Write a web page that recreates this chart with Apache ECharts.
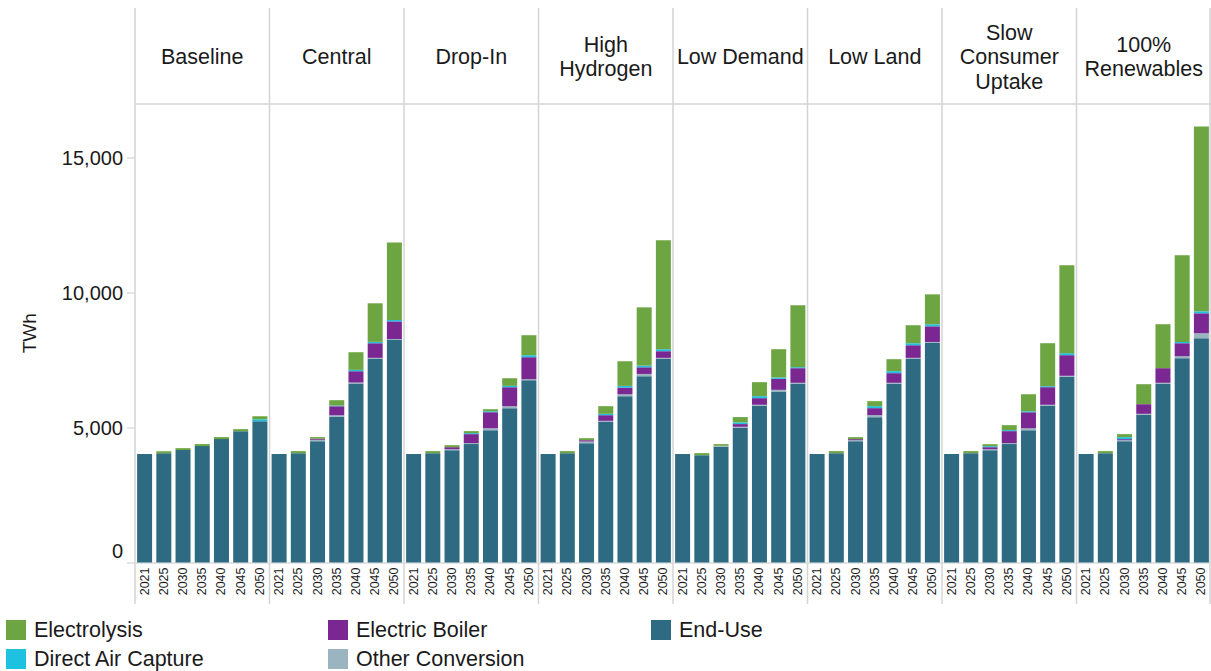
<!DOCTYPE html>
<html>
<head>
<meta charset="utf-8">
<script src="https://cdn.jsdelivr.net/npm/echarts@6/dist/echarts.min.js"></script>
<style>
html,body{margin:0;padding:0;background:#fff;}
#chart{width:1211px;height:671px;}
</style>
</head>
<body>
<div id="chart"></div>
<script>
// ---- Data ----
const scenarios = ['Baseline', 'Central', 'Drop-In', 'High\nHydrogen', 'Low Demand', 'Low Land', 'Slow\nConsumer\nUptake', '100%\nRenewables'];
const years = ['2021', '2025', '2030', '2035', '2040', '2045', '2050'];
const yTicks = [0, 5000, 10000, 15000];

// one row per scenario (same order as scenarios), one value per year
const endUse = [
  [4020, 4050, 4170, 4315, 4575, 4870, 5240],
  [4020, 4055, 4500, 5400, 6635, 7550, 8250],
  [4020, 4055, 4165, 4390, 4905, 5720, 6760],
  [4020, 4055, 4425, 5215, 6165, 6905, 7550],
  [4020, 3980, 4290, 4995, 5810, 6340, 6625],
  [4020, 4055, 4500, 5390, 6625, 7550, 8140],
  [4020, 4055, 4165, 4390, 4905, 5810, 6885],
  [4020, 4055, 4500, 5475, 6625, 7575, 8315]
];
const otherConversion = [
  [0, 0, 0, 0, 0, 0, 0],
  [0, 0, 50, 60, 37, 37, 37],
  [0, 0, 37, 37, 74, 74, 37],
  [0, 0, 60, 37, 74, 86, 37],
  [0, 0, 37, 37, 37, 62, 37],
  [0, 0, 37, 74, 37, 37, 37],
  [0, 0, 37, 37, 74, 37, 37],
  [0, 0, 37, 37, 37, 74, 185]
];
const electricBoiler = [
  [0, 0, 0, 0, 0, 0, 0],
  [0, 0, 40, 333, 420, 543, 654],
  [0, 0, 74, 333, 593, 704, 815],
  [0, 0, 50, 210, 247, 247, 247],
  [0, 0, 0, 100, 247, 407, 543],
  [0, 0, 37, 259, 358, 469, 580],
  [0, 0, 74, 444, 593, 654, 765],
  [0, 0, 37, 358, 543, 481, 740]
];
const directAirCapture = [
  [0, 0, 0, 0, 0, 0, 70],
  [0, 0, 0, 25, 50, 50, 50],
  [0, 0, 0, 37, 37, 50, 74],
  [0, 0, 0, 50, 62, 62, 74],
  [0, 0, 0, 62, 74, 50, 37],
  [0, 0, 0, 74, 74, 74, 74],
  [0, 0, 37, 37, 37, 37, 74],
  [0, 0, 74, 0, 0, 50, 74]
];
const electrolysis = [
  [0, 75, 70, 75, 75, 75, 110],
  [0, 75, 60, 200, 655, 1430, 2875],
  [0, 75, 74, 74, 74, 284, 741],
  [0, 75, 74, 284, 914, 2160, 4037],
  [0, 75, 62, 198, 518, 1049, 2296],
  [0, 75, 74, 185, 444, 667, 1111],
  [0, 75, 74, 185, 630, 1593, 3259],
  [0, 75, 111, 741, 1630, 3210, 6852]
];

// ---- Styling / layout ----
const FONT = "'Liberation Sans', Arial, Helvetica, sans-serif";
const TEXT = '#1a1a1a';
const SEP = '#d4d4d4';
const seriesDefs = [
  { name: 'End-Use', data: endUse, color: '#2e6b83' },
  { name: 'Other Conversion', data: otherConversion, color: '#9ab4c0' },
  { name: 'Electric Boiler', data: electricBoiler, color: '#7b2792' },
  { name: 'Direct Air Capture', data: directAirCapture, color: '#1fc1e0' },
  { name: 'Electrolysis', data: electrolysis, color: '#6ca541' }
];
const legendLayout = [
  { name: 'Electrolysis', left: 6, top: 619 },
  { name: 'Electric Boiler', left: 328, top: 619 },
  { name: 'End-Use', left: 651, top: 619 },
  { name: 'Direct Air Capture', left: 6, top: 648 },
  { name: 'Other Conversion', left: 328, top: 648 }
];

const PLOT_LEFT = 135, PANEL_W = 134.5, PLOT_TOP = 104, PLOT_BOTTOM = 562.5;
const HEADER_TOP = 8, SEP_BOTTOM = 604;

const grids = [], xAxes = [], yAxes = [], series = [], graphics = [];
scenarios.forEach((sc, i) => {
  grids.push({
    left: PLOT_LEFT + i * PANEL_W,
    width: PANEL_W,
    top: PLOT_TOP,
    bottom: 671 - PLOT_BOTTOM,
    containLabel: false
  });
  xAxes.push({
    type: 'category',
    gridIndex: i,
    data: years,
    axisLine: { show: true, lineStyle: { color: '#dcdcdc', width: 1.5 } },
    axisTick: { show: false },
    axisLabel: { rotate: 90, fontSize: 12.5, color: TEXT, margin: 5, fontFamily: FONT }
  });
  yAxes.push({
    type: 'value',
    gridIndex: i,
    min: 0,
    max: 17000,
    interval: 5000,
    show: i === 0,
    splitLine: { show: false },
    axisLine: { show: false },
    axisTick: i === 0 ? { show: true, length: 8, lineStyle: { color: '#dcdcdc', width: 1.5 }, customValues: yTicks } : { show: false },
    axisLabel: i === 0 ? {
      show: true,
      customValues: yTicks,
      fontSize: 20,
      color: TEXT,
      margin: 12,
      fontFamily: FONT,
      formatter: v => v === 0 ? '{z|0}' : Number(v).toLocaleString('en-US'),
      rich: { z: { fontSize: 20, color: TEXT, fontFamily: FONT, padding: [0, 0, 24, 0] } }
    } : { show: false },
    name: i === 0 ? 'TWh' : '',
    nameLocation: 'middle',
    nameGap: 96,
    nameRotate: 90,
    nameTextStyle: { fontSize: 19, color: TEXT, fontFamily: FONT }
  });
  seriesDefs.forEach(sd => {
    series.push({
      name: sd.name,
      type: 'bar',
      xAxisIndex: i,
      yAxisIndex: i,
      stack: 'panel' + i,
      barWidth: 15,
      itemStyle: { color: sd.color },
      emphasis: { disabled: true },
      data: sd.data[i]
    });
  });
  // header text
  graphics.push({
    type: 'text',
    x: PLOT_LEFT + i * PANEL_W + PANEL_W / 2,
    y: (HEADER_TOP + PLOT_TOP) / 2 + 1,
    style: {
      text: sc,
      fill: TEXT,
      font: '21.5px ' + FONT,
      fontSize: 21.5,
      fontFamily: FONT,
      lineHeight: 24.5,
      align: 'center',
      verticalAlign: 'middle',
      textAlign: 'center',
      textVerticalAlign: 'middle'
    },
    silent: true
  });
});
// panel separators
for (let i = 0; i <= scenarios.length; i++) {
  const x = Math.min(PLOT_LEFT + i * PANEL_W, 1210);
  graphics.push({
    type: 'line',
    shape: { x1: x, y1: HEADER_TOP, x2: x, y2: SEP_BOTTOM },
    style: { stroke: SEP, lineWidth: 1.5 },
    silent: true
  });
}
graphics.push({
  type: 'line',
  shape: { x1: PLOT_LEFT, y1: PLOT_TOP, x2: 1211, y2: PLOT_TOP },
  style: { stroke: SEP, lineWidth: 1.5 },
  silent: true
});

const legends = legendLayout.map(l => ({
  data: [l.name],
  left: l.left,
  top: l.top,
  padding: 0,
  itemWidth: 20,
  itemHeight: 20,
  icon: 'rect',
  selectedMode: false,
  textStyle: { fontSize: 21.5, color: TEXT, fontFamily: FONT, padding: [0, 0, 0, 3] }
}));

const chart = echarts.init(document.getElementById('chart'), null, { renderer: 'svg' });
chart.setOption({
  animation: false,
  textStyle: { fontFamily: FONT },
  grid: grids,
  xAxis: xAxes,
  yAxis: yAxes,
  legend: legends,
  series: series,
  graphic: { elements: graphics }
});
</script>
</body>
</html>
